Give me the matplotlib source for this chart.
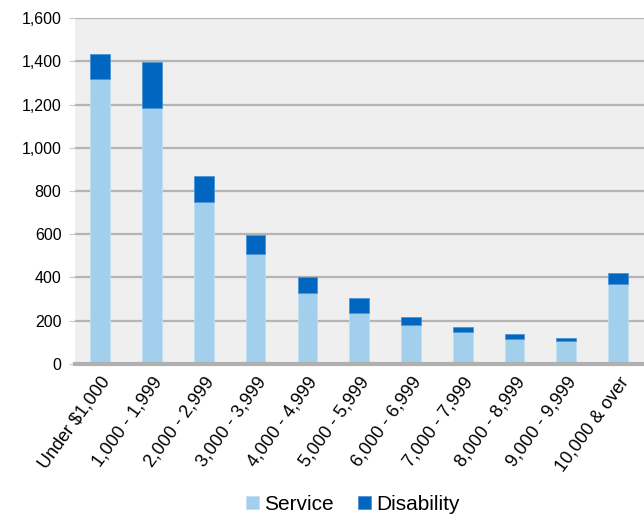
import matplotlib.pyplot as plt
from matplotlib.ticker import FuncFormatter

# income bands and counts
categories = ['Under $1,000', '1,000 - 1,999', '2,000 - 2,999', '3,000 - 3,999',
              '4,000 - 4,999', '5,000 - 5,999', '6,000 - 6,999', '7,000 - 7,999',
              '8,000 - 8,999', '9,000 - 9,999', '10,000 & over']
service = [1320, 1185, 750, 510, 330, 235, 178, 146, 115, 106, 372]
disability = [115, 210, 120, 88, 72, 70, 40, 24, 24, 16, 48]

plt.rcParams['font.family'] = ['Liberation Sans', 'DejaVu Sans']

fig = plt.figure(figsize=(6.44, 5.19), dpi=100)
ax = fig.add_axes([0.117, 0.2987, 0.883, 0.6666])
ax.set_facecolor('#efefef')

x = list(range(len(categories)))
ax.bar(x, service, width=0.38, color='#a2cfec', edgecolor='#c2e0f4', linewidth=0.6,
       label='Service', zorder=3)
ax.bar(x, disability, width=0.38, bottom=service, color='#0066bf', edgecolor='#4d94d4',
       linewidth=0.6, label='Disability', zorder=3)

ax.set_xlim(-0.48, 10.5)
ax.set_ylim(0, 1600)
ax.set_yticks(range(0, 1601, 200))
ax.yaxis.set_major_formatter(FuncFormatter(lambda v, p: '{:,.0f}'.format(v)))
ax.grid(axis='y', color='#b4b4b4', linewidth=1.6, zorder=1)
ax.set_axisbelow(True)

for s in ['top', 'right', 'left']:
    ax.spines[s].set_visible(False)
ax.spines['bottom'].set_color('#b0b0b0')
ax.spines['bottom'].set_linewidth(3)
ax.spines['bottom'].set_zorder(4)

ax.tick_params(axis='y', length=4, color='#c8c8c8', labelsize=11.5, pad=6)
ax.tick_params(axis='x', length=0, labelsize=13, pad=7)
ax.set_xticks(x)
ax.set_xticklabels(categories, rotation=54, ha='right', rotation_mode='anchor')

ax.legend(loc='center', bbox_to_anchor=(0.488, -0.405), ncol=2, frameon=False,
          fontsize=15, handlelength=0.6, handleheight=0.6, handletextpad=0.25,
          columnspacing=1.2)

fig.savefig('out.png', dpi=100)
